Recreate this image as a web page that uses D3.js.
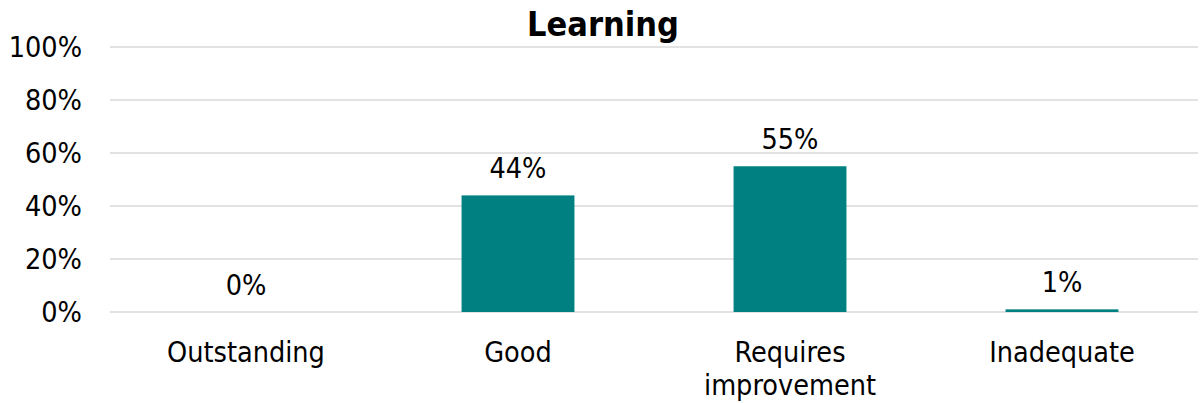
<!DOCTYPE html>
<html>
<head>
<meta charset="utf-8">
<script src="https://cdn.jsdelivr.net/npm/d3@7"></script>
<style>
  html, body { margin: 0; padding: 0; background: #fff; }
  svg { display: block; }
  text { font-family: "DejaVu Sans Condensed", "DejaVu Sans", sans-serif; font-stretch: condensed; fill: #000; }
</style>
</head>
<body>
<svg id="chart" width="1204" height="403"></svg>
<script>
const title = "Learning";
const categories = [["Outstanding"], ["Good"], ["Requires", "improvement"], ["Inadequate"]];
const values = [0, 44, 55, 1];
const yTicks = [0, 20, 40, 60, 80, 100];

const svg = d3.select("#chart");
const margin = { left: 110, right: 6, top: 47, bottom: 91 };
const W = 1204, H = 403;
const FS = 28.5;

const x = d3.scaleBand()
  .domain(d3.range(categories.length))
  .range([margin.left, W - margin.right])
  .paddingInner(0.585)
  .paddingOuter(0.2925);

const y = d3.scaleLinear().domain([0, 100]).range([H - margin.bottom, margin.top]);

// gridlines
svg.append("g")
  .selectAll("line")
  .data(yTicks)
  .join("line")
  .attr("x1", margin.left)
  .attr("x2", W - margin.right)
  .attr("y1", d => y(d))
  .attr("y2", d => y(d))
  .attr("stroke", "#d9d9d9")
  .attr("stroke-width", 1.5);

// y axis labels
const yAxis = d3.axisLeft(y).tickValues(yTicks).tickFormat(d => d + "%").tickSize(0).tickPadding(28);
const gy = svg.append("g").attr("transform", `translate(${margin.left},0)`).call(yAxis);
gy.select(".domain").remove();
gy.selectAll("text").attr("font-size", FS).attr("font-family", null).attr("fill", "#000");

// bars
svg.append("g")
  .selectAll("rect")
  .data(values)
  .join("rect")
  .attr("x", (d, i) => x(i))
  .attr("width", x.bandwidth())
  .attr("y", d => y(d))
  .attr("height", d => y(0) - y(d))
  .attr("fill", "#008080");

// value labels
svg.append("g")
  .selectAll("text")
  .data(values)
  .join("text")
  .attr("x", (d, i) => x(i) + x.bandwidth() / 2)
  .attr("y", d => y(d) - 17)
  .attr("text-anchor", "middle")
  .attr("font-size", FS)
  .text(d => d + "%");

// category labels
const cg = svg.append("g")
  .selectAll("text")
  .data(categories)
  .join("text")
  .attr("x", (d, i) => x(i) + x.bandwidth() / 2)
  .attr("y", 362)
  .attr("text-anchor", "middle")
  .attr("font-size", FS);
cg.selectAll("tspan")
  .data(d => d)
  .join("tspan")
  .attr("x", function() { return this.parentNode.getAttribute("x"); })
  .attr("dy", (d, i) => i === 0 ? 0 : 33)
  .text(d => d);

// title
svg.append("text")
  .attr("x", 603)
  .attr("y", 36)
  .attr("text-anchor", "middle")
  .attr("font-size", 34)
  .attr("font-weight", "bold")
  .text(title);
</script>
</body>
</html>
